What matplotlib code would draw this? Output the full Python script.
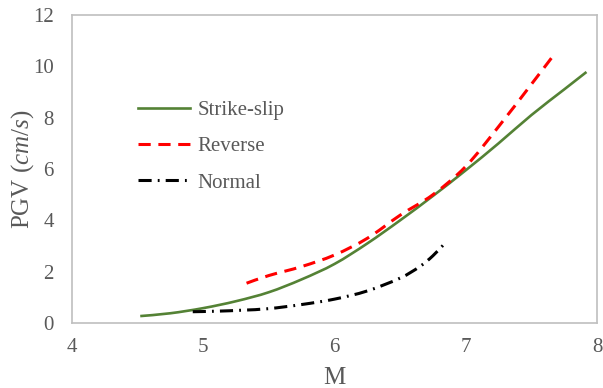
import numpy as np
import matplotlib
matplotlib.use('Agg')
import matplotlib.pyplot as plt
from matplotlib.path import Path
from matplotlib.patches import PathPatch
from matplotlib.lines import Line2D

plt.rcParams['font.family'] = ['Liberation Serif', 'DejaVu Serif']
plt.rcParams['mathtext.fontset'] = 'custom'
plt.rcParams['mathtext.rm'] = 'Liberation Serif'
plt.rcParams['mathtext.it'] = 'Liberation Serif:italic'

# data
m_strike = [4.52, 4.75, 5.0, 5.25, 5.5, 5.75, 6.0, 6.25, 6.5, 6.75, 7.0, 7.25, 7.5, 7.75, 7.92]
pgv_strike = [0.27, 0.38, 0.58, 0.85, 1.2, 1.7, 2.3, 3.1, 4.0, 4.95, 5.95, 7.0, 8.1, 9.1, 9.78]

m_reverse = [5.33, 5.5, 5.75, 6.0, 6.25, 6.5, 6.75, 7.0, 7.25, 7.5, 7.66]
pgv_reverse = [1.55, 1.85, 2.2, 2.65, 3.3, 4.2, 5.0, 6.1, 7.65, 9.3, 10.37]

m_normal = [4.92, 5.1, 5.3, 5.5, 5.75, 6.0, 6.25, 6.5, 6.65, 6.75, 6.84]
pgv_normal = [0.44, 0.46, 0.5, 0.56, 0.72, 0.93, 1.25, 1.75, 2.2, 2.62, 3.1]

grey = '#595959'


def smooth_path(x, y):
    # Excel-style smoothed line: cubic Bezier segments through the points
    p = np.column_stack([x, y])
    verts = [p[0]]
    codes = [Path.MOVETO]
    n = len(p)
    for i in range(n - 1):
        p0 = p[i - 1] if i > 0 else p[i]
        p3 = p[i + 2] if i + 2 < n else p[i + 1]
        c1 = p[i] + (p[i + 1] - p0) / 6
        c2 = p[i + 1] - (p3 - p[i]) / 6
        verts += [c1, c2, p[i + 1]]
        codes += [Path.CURVE4] * 3
    return Path(verts, codes)


fig = plt.figure(figsize=(6.03, 3.88), dpi=100)
ax = fig.add_axes([0.1194, 0.1675, 0.8706, 0.7938])

series = [
    (m_strike, pgv_strike, '#548235', 1.9, '-', 'Strike-slip'),
    (m_reverse, pgv_reverse, '#ff0000', 2.2, (0, (4, 2.5)), 'Reverse'),
    (m_normal, pgv_normal, 'black', 2.2, (0, (4.3, 2, 0.6, 2)), 'Normal'),
]
handles = []
for x, y, c, lw, ls, lab in series:
    ax.add_patch(PathPatch(smooth_path(x, y), facecolor='none', edgecolor=c,
                           lw=lw, linestyle=ls, capstyle='butt'))
    handles.append(Line2D([], [], color=c, lw=lw, linestyle=ls, label=lab))

ax.set_xlim(4, 8)
ax.set_ylim(0, 12)
ax.set_xticks([4, 5, 6, 7, 8])
ax.set_yticks([0, 2, 4, 6, 8, 10, 12])
ax.tick_params(axis='x', length=0, pad=11, labelsize=15, labelcolor=grey)
ax.tick_params(axis='y', length=0, pad=13, labelsize=15, labelcolor=grey)
for s in ax.spines.values():
    s.set_color('#bfbfbf')
    s.set_linewidth(1.2)

ax.set_xlabel('M', fontsize=18, color=grey, labelpad=7)
ax.set_ylabel('PGV $\\it{(cm/s)}$', fontsize=18, color=grey, labelpad=-2)

leg = ax.legend(handles=handles, loc='upper left', bbox_to_anchor=(0.09, 0.783), frameon=False,
                fontsize=15, handlelength=2.5, handletextpad=0.35, labelspacing=0.8)
for t in leg.get_texts():
    t.set_color(grey)

fig.savefig('out.png', dpi=100)
